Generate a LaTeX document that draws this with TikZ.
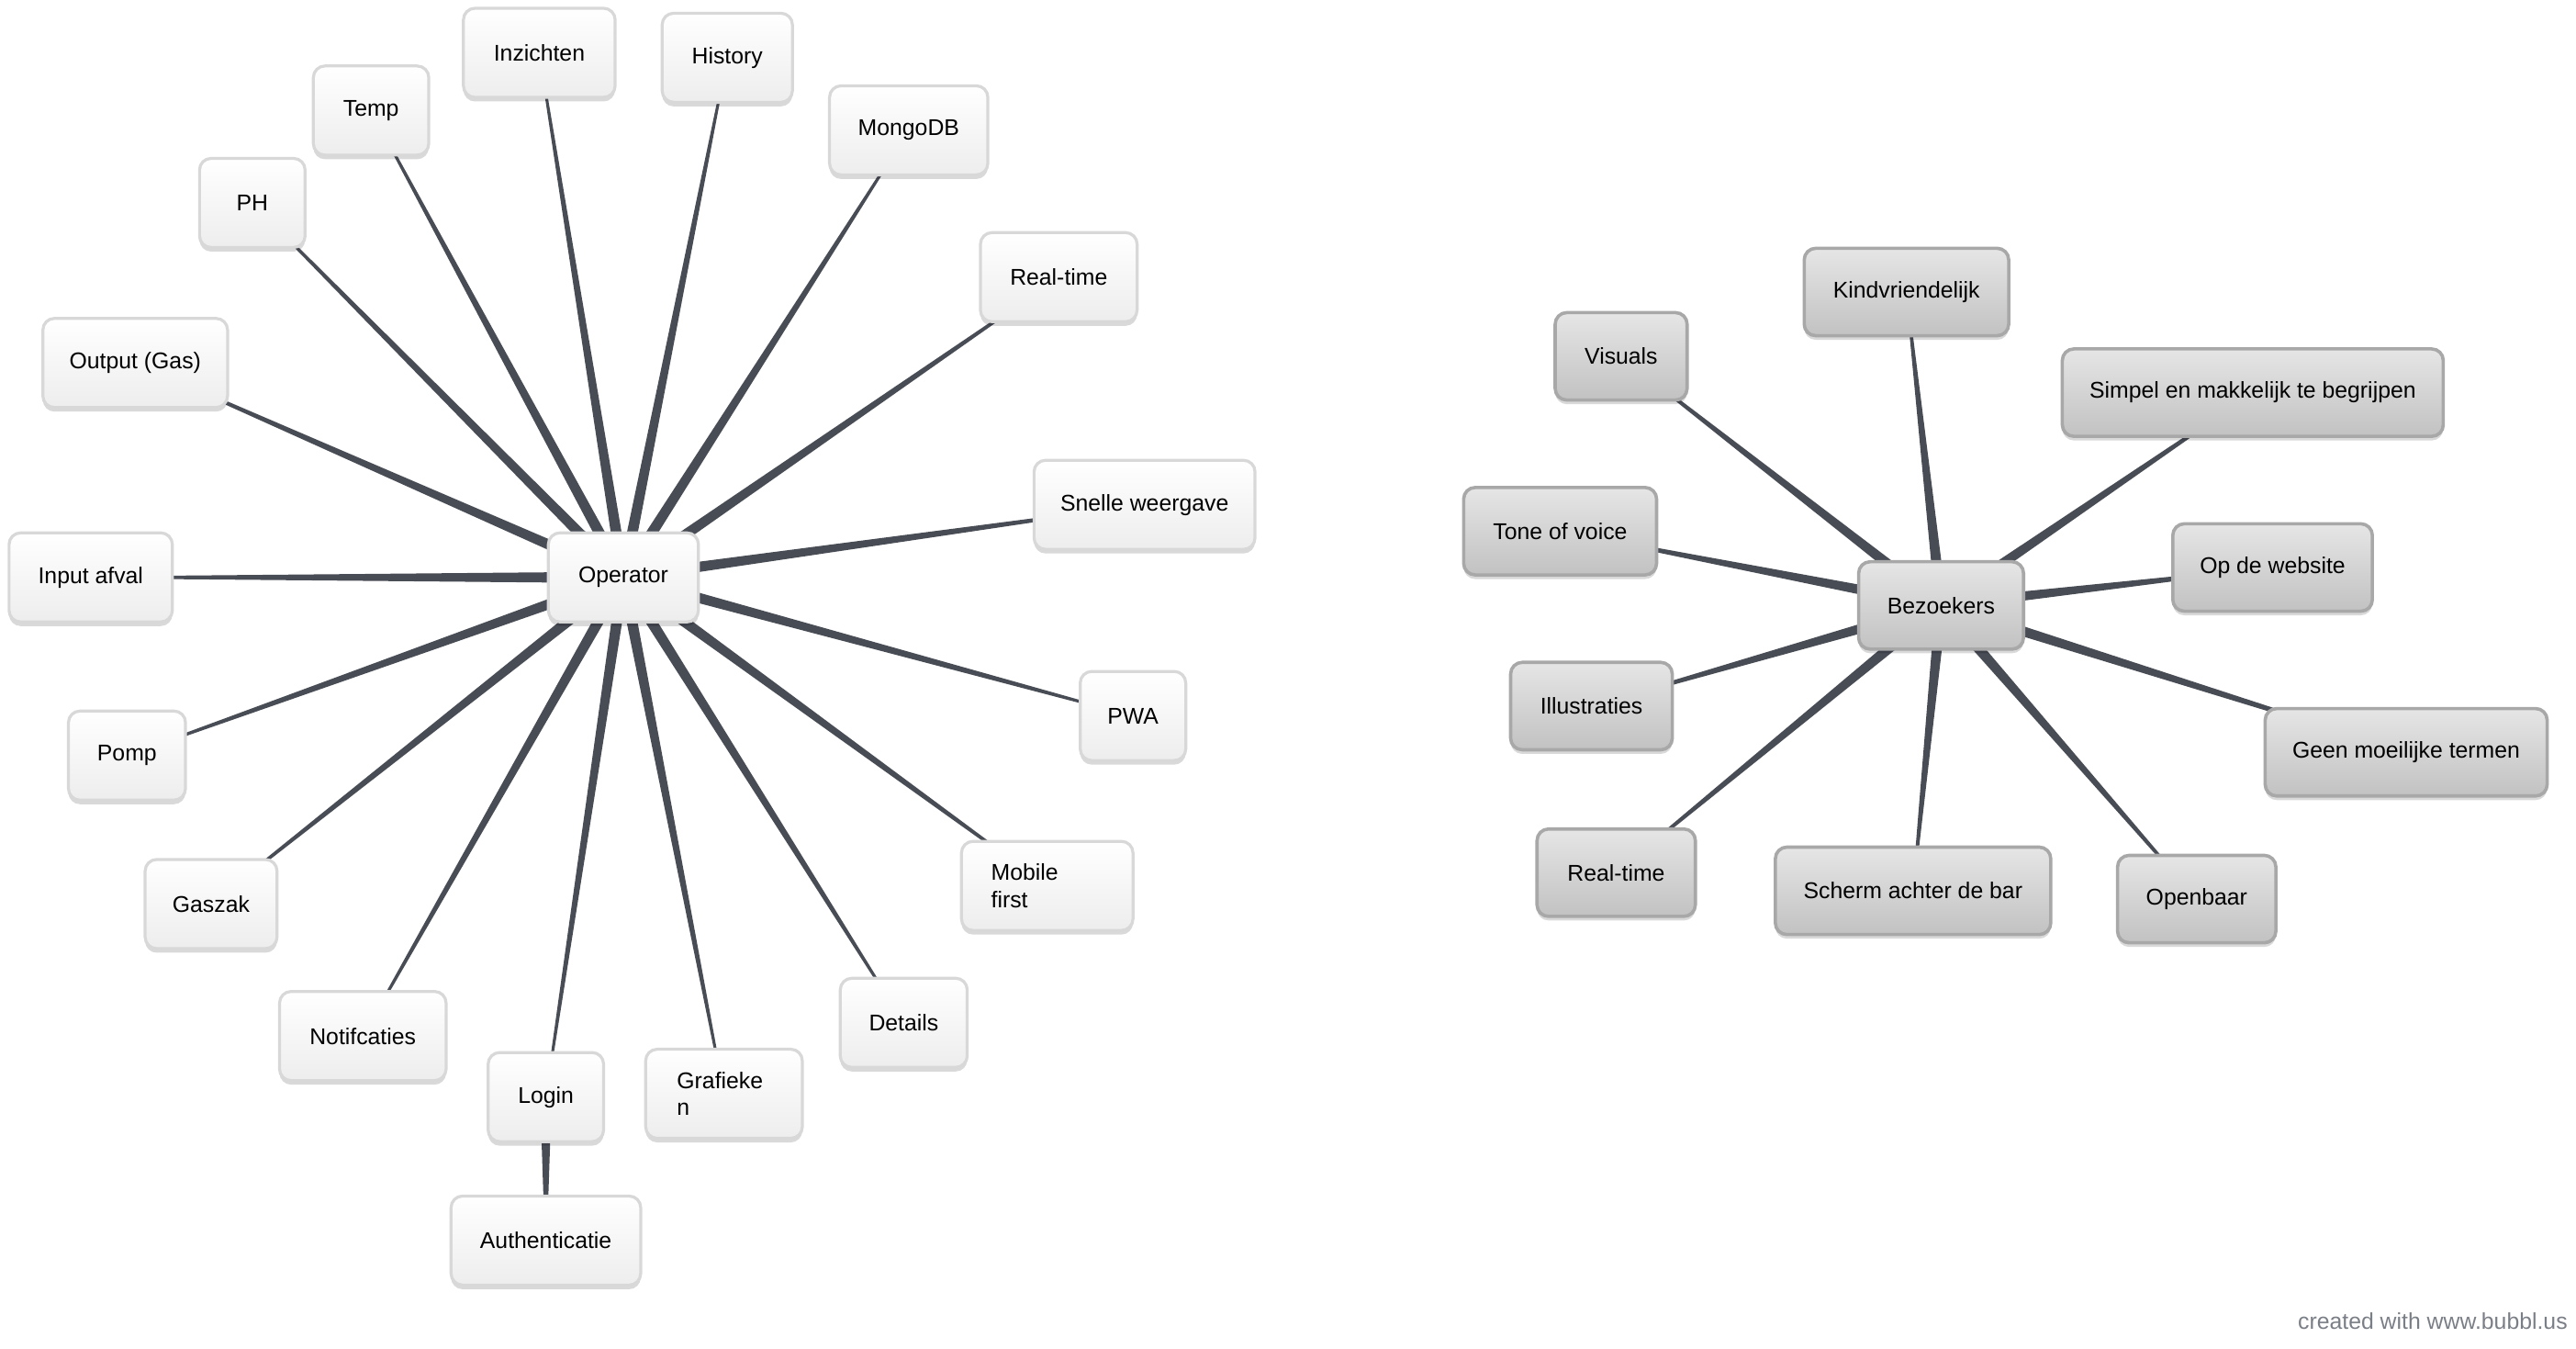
\documentclass[tikz,border=0pt]{standalone}
\usepackage{fontspec}
\setmainfont{Liberation Sans}
\usetikzlibrary{positioning,calc,shadows,backgrounds}
\definecolor{spokecol}{HTML}{484C55}
\definecolor{lightedge}{HTML}{D8D8D8}
\definecolor{grayedge}{HTML}{A8A8A8}
\definecolor{creditcol}{HTML}{7A7E86}
% tapered connector: thick at #1, thin at #2
\newcommand{\spoke}[2]{%
  \fill[spokecol] ($(#1.center)!3.5pt!90:(#2.center)$) -- ($(#2.center)!0.6pt!-90:(#1.center)$)
    -- ($(#2.center)!0.6pt!90:(#1.center)$) -- ($(#1.center)!3.5pt!-90:(#2.center)$) -- cycle;}

\begin{document}
\begin{tikzpicture}[x=1pt,y=-1pt]
    \tikzstyle{every node}=[font=\fontsize{13.8}{16.5}\selectfont,inner sep=0,rounded corners=7,minimum height=54]
    \tikzstyle{bubble}=[draw=lightedge,line width=1.8,top color=white,bottom color=gray!14,
        drop shadow={shadow xshift=0pt,shadow yshift=-2.5pt,opacity=0.15,fill=black}]
    \tikzstyle{greybubble}=[bubble,draw=grayedge,line width=2,top color=gray!20,bottom color=gray!48,minimum height=53]
    \tikzstyle{note}=[draw=none,rounded corners=0,minimum height=0]
    \useasboundingbox (0,0) rectangle (1562,817.2);
    {
        % operator cluster
        \node[bubble,minimum width=91] (op) at (378,350) {Operator};
        \node[bubble,minimum width=92] (inzichten) at (327,32) {Inzichten};
        \node[bubble,minimum width=79] (history) at (441,35) {History};
        \node[bubble,minimum width=70] (temp) at (225,67) {Temp};
        \node[bubble,minimum width=96] (mongodb) at (551,79) {MongoDB};
        \node[bubble,minimum width=64] (ph) at (153,123) {PH};
        \node[bubble,minimum width=95] (realtime) at (642,168) {Real-time};
        \node[bubble,minimum width=112] (output) at (82,220) {Output (Gas)};
        \node[bubble,minimum width=134] (snelle) at (694,306) {Snelle weergave};
        \node[bubble,minimum width=99] (input) at (55,350) {Input afval};
        \node[bubble,minimum width=64] (pwa) at (687,434) {PWA};
        \node[bubble,minimum width=71] (pomp) at (77,458) {Pomp};
        \node[bubble,minimum width=104,text width=68,align=left] (mobile) at (635,537) {Mobile\\first};
        \node[bubble,minimum width=80] (gaszak) at (128,548) {Gaszak};
        \node[bubble,minimum width=101] (notif) at (220,628) {Notifcaties};
        \node[bubble,minimum width=77] (details) at (548,620) {Details};
        \node[bubble,minimum width=70] (login) at (331,665) {Login};
        \node[bubble,minimum width=95,text width=57,align=left] (grafieken) at (439,663) {Grafieke\\n};
        \node[bubble,minimum width=115] (auth) at (331,752) {Authenticatie};

        % bezoekers cluster
        \node[greybubble,minimum width=100] (bez) at (1177,367) {Bezoekers};
        \node[greybubble,minimum width=124] (kind) at (1156,177) {Kindvriendelijk};
        \node[greybubble,minimum width=80] (visuals) at (983,216) {Visuals};
        \node[greybubble,minimum width=231] (simpel) at (1366,238) {Simpel en makkelijk te begrijpen};
        \node[greybubble,minimum width=117] (tone) at (946,322) {Tone of voice};
        \node[greybubble,minimum width=121] (website) at (1378,344) {Op de website};
        \node[greybubble,minimum width=98] (illus) at (965,428) {Illustraties};
        \node[greybubble,minimum width=171] (geen) at (1459,456) {Geen moeilijke termen};
        \node[greybubble,minimum width=96] (rtime) at (980,529) {Real-time};
        \node[greybubble,minimum width=167] (scherm) at (1160,540) {Scherm achter de bar};
        \node[greybubble,minimum width=96] (openbaar) at (1332,545) {Openbaar};

        \node[note,anchor=east,text=creditcol,font=\fontsize{13.8}{16}\selectfont] (credit) at (1557,801) {created with www.bubbl.us};

        \begin{scope}[on background layer]
            \foreach \leaf in {inzichten,history,temp,mongodb,ph,realtime,output,snelle,input,pwa,pomp,mobile,gaszak,notif,details,login,grafieken}
                \spoke{op}{\leaf};
            \spoke{login}{auth};
            \foreach \leaf in {kind,visuals,simpel,tone,website,illus,geen,rtime,scherm,openbaar}
                \spoke{bez}{\leaf};
        \end{scope}
    }
\end{tikzpicture}
\end{document}
